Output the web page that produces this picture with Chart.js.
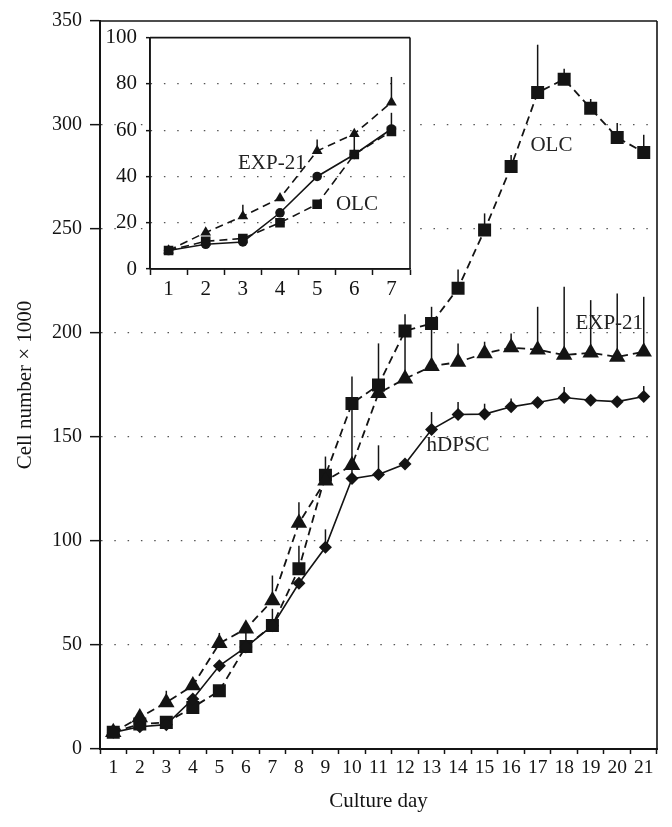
<!DOCTYPE html>
<html><head><meta charset="utf-8">
<script src="https://cdn.jsdelivr.net/npm/chart.js@4.4.1/dist/chart.umd.min.js"></script>
<style>
html,body{margin:0;padding:0;background:#fff;}
#wrap{position:relative;width:672px;height:827px;overflow:hidden;}
#main{position:absolute;left:0;top:0;}
#inset{position:absolute;left:90px;top:16px;}
</style></head><body>
<div id="wrap"><canvas id="main" width="672" height="827"></canvas><canvas id="inset" width="330" height="290"></canvas></div>
<script>
// ---- Data (main chart, cells x 1000) ----
const days = ['1','2','3','4','5','6','7','8','9','10','11','12','13','14','15','16','17','18','19','20','21'];
const hDPSC = [8, 10.7, 11.7, 24, 40, 49, 59.3, 79.7, 97, 130, 132, 137, 153.6, 160.8, 161, 164.5, 166.6, 169, 167.7, 167, 169.5];
const EXP21 = [8, 15.2, 22.4, 30.5, 50.8, 57.8, 71.4, 108.6, 129, 136.4, 171, 178, 184, 186, 190.2, 193, 192, 189.4, 190.5, 188.5, 191];
const OLC   = [8, 12, 12.8, 20, 28, 49.3, 59.4, 86.7, 131.6, 166.1, 175, 201, 204.6, 221.5, 249.5, 280, 315.6, 322, 308, 294, 286.8];
const hDPSCErr = [0, 0, 0, 0, 0, 0, 0, 0, 8.6, 8, 14, 0, 8.4, 6, 5, 4, 0, 5, 0, 0, 5];
const EXP21Err = [0, 0, 5.6, 0, 5, 0, 12, 10, 0, 29, 24, 26, 20, 9, 5.6, 6.8, 20.6, 32.8, 25.3, 30.5, 26.4];
const OLCErr   = [0, 0, 0, 0, 0, 8, 8, 11, 9, 13, 0, 8, 8, 9, 8, 5.6, 23, 5, 4.5, 7, 8.5];
const yTicksMain = [0, 50, 100, 150, 200, 250, 300, 350];

// ---- Data (inset, days 1-7) ----
const insetDays = ['1','2','3','4','5','6','7'];
const insetHDPSC = [8, 10.7, 11.7, 24.3, 40, 49.5, 60.5];
const insetEXP21 = [8, 15.8, 22.8, 30.6, 51, 58.4, 72];
const insetOLC   = [8, 12, 13.2, 20, 28, 49.5, 59.5];
const insetHDPSCErr = [0, 0, 0, 0, 0, 0, 7];
const insetEXP21Err = [0, 0, 5, 0, 5, 0, 11];
const insetOLCErr   = [0, 0, 0, 0, 0, 8, 0];
const yTicksInset = [0, 20, 40, 60, 80, 100];

// ---- Text labels (category index, value) ----
const mainLabels = [
  {text: 'OLC', x: 16.52, y: 290},
  {text: 'EXP-21', x: 18.7, y: 204.8},
  {text: 'hDPSC', x: 13.0, y: 146}
];
const insetLabels = [
  {text: 'EXP-21', x: 2.78, y: 45.7},
  {text: 'OLC', x: 5.07, y: 27.8}
];

const FONT = 'Liberation Serif';
const INK = '#141414';
Chart.defaults.font.family = FONT;
Chart.defaults.color = INK;

const errorBars = {
  id: 'errorBars',
  beforeDatasetsDraw(chart) {
    const ctx = chart.ctx, xs = chart.scales.x, ys = chart.scales.y;
    ctx.save();
    ctx.strokeStyle = INK;
    ctx.lineWidth = 1.5;
    chart.data.datasets.forEach(ds => {
      (ds.errUp || []).forEach((e, i) => {
        if (!e) return;
        const x = xs.getPixelForValue(i);
        ctx.beginPath();
        ctx.moveTo(x, ys.getPixelForValue(ds.data[i]));
        ctx.lineTo(x, ys.getPixelForValue(ds.data[i] + e));
        ctx.stroke();
      });
    });
    ctx.restore();
  }
};

function framePlugin(sides, fillWhite) {
  return {
    id: 'frame',
    beforeDraw(chart) {
      if (!fillWhite) return;
      const a = chart.chartArea, ctx = chart.ctx;
      ctx.save(); ctx.fillStyle = '#fff';
      ctx.fillRect(a.left, a.top, a.right - a.left, a.bottom - a.top);
      ctx.restore();
    },
    afterDraw(chart) {
      const a = chart.chartArea, ctx = chart.ctx;
      ctx.save(); ctx.strokeStyle = INK; ctx.lineWidth = 1.6;
      ctx.beginPath();
      if (sides.includes('top')) { ctx.moveTo(a.left, a.top); ctx.lineTo(a.right, a.top); }
      if (sides.includes('right')) { ctx.moveTo(a.right, a.top); ctx.lineTo(a.right, a.bottom); }
      if (sides.includes('left')) { ctx.moveTo(a.left, a.top); ctx.lineTo(a.left, a.bottom); }
      if (sides.includes('bottom')) { ctx.moveTo(a.left, a.bottom); ctx.lineTo(a.right, a.bottom); }
      ctx.stroke(); ctx.restore();
    }
  };
}

function textPlugin(items, size) {
  return {
    id: 'texts',
    afterDatasetsDraw(chart) {
      const ctx = chart.ctx, xs = chart.scales.x, ys = chart.scales.y;
      ctx.save();
      ctx.font = size + 'px "' + FONT + '"';
      ctx.fillStyle = '#222';
      ctx.textAlign = 'center'; ctx.textBaseline = 'middle';
      items.forEach(t => ctx.fillText(t.text, xs.getPixelForValue(t.x), ys.getPixelForValue(t.y)));
      ctx.restore();
    }
  };
}

function gridColor(maxV) {
  return c => (c.tick && (c.tick.value === 0 || c.tick.value === maxV)) ? 'rgba(0,0,0,0)' : '#555';
}

function ds(label, data, err, style, radius, dashed, width) {
  return {
    label, data, errUp: err,
    borderColor: INK, backgroundColor: INK, borderWidth: width,
    borderDash: dashed ? [8, 5] : [],
    pointStyle: style, pointRadius: radius, pointBorderWidth: 0,
    pointBackgroundColor: INK, tension: 0, fill: false
  };
}

new Chart(document.getElementById('main'), {
  type: 'line',
  data: {
    labels: days,
    datasets: [
      ds('hDPSC', hDPSC, hDPSCErr, 'rectRot', 6.5, false, 1.6),
      ds('EXP-21', EXP21, EXP21Err, 'triangle', 9.5, true, 1.8),
      ds('OLC', OLC, OLCErr, 'rect', 9.2, true, 1.8)
    ]
  },
  options: {
    responsive: false, animation: false, devicePixelRatio: 1,
    layout: {padding: {top: 21, right: 15, left: 0, bottom: 0}, autoPadding: false},
    plugins: {legend: {display: false}, tooltip: {enabled: false}},
    scales: {
      x: {
        type: 'category', offset: true,
        grid: {offset: true, drawOnChartArea: false, tickLength: 5, tickColor: INK, tickWidth: 1.5},
        border: {color: INK, width: 2},
        ticks: {font: {size: 19.5}, color: INK, padding: 2, maxRotation: 0, autoSkip: false},
        title: {display: true, text: 'Culture day', font: {size: 21}, color: INK, padding: {top: 0, bottom: 13}},
        afterFit(s) { s.height = 78; }
      },
      y: {
        min: 0, max: 350,
        afterBuildTicks(s) { s.ticks = yTicksMain.map(v => ({value: v})); },
        ticks: {font: {size: 20}, color: INK, padding: 8},
        grid: {color: gridColor(350), lineWidth: 1.3, tickLength: 10, tickColor: INK, tickWidth: 1.5},
        border: {color: INK, width: 2, dash: [1.5, 11.8]},
        title: {display: true, text: 'Cell number × 1000', font: {size: 21}, color: INK, padding: {top: 13, bottom: 0}},
        afterFit(s) { s.width = 100; }
      }
    }
  },
  plugins: [errorBars, framePlugin(['top', 'right'], false), textPlugin(mainLabels, 21)]
});

new Chart(document.getElementById('inset'), {
  type: 'line',
  data: {
    labels: insetDays,
    datasets: [
      ds('hDPSC', insetHDPSC, insetHDPSCErr, 'circle', 4.8, false, 1.6),
      ds('EXP-21', insetEXP21, insetEXP21Err, 'triangle', 6.2, true, 1.6),
      ds('OLC', insetOLC, insetOLCErr, 'rect', 6.8, true, 1.6)
    ]
  },
  options: {
    responsive: false, animation: false, devicePixelRatio: 1,
    layout: {padding: {top: 20, right: 10, left: 0, bottom: 0}, autoPadding: false},
    plugins: {legend: {display: false}, tooltip: {enabled: false}},
    scales: {
      x: {
        type: 'category', offset: true,
        grid: {offset: true, drawOnChartArea: false, tickLength: 6, tickColor: INK, tickWidth: 1.5},
        border: {color: INK, width: 1.6},
        ticks: {font: {size: 21}, color: INK, padding: 2, maxRotation: 0, autoSkip: false},
        afterFit(s) { s.height = 37; }
      },
      y: {
        min: 0, max: 100,
        afterBuildTicks(s) { s.ticks = yTicksInset.map(v => ({value: v})); },
        ticks: {font: {size: 21}, color: INK, padding: 9},
        grid: {color: gridColor(100), lineWidth: 1.3, tickLength: 4, tickColor: INK, tickWidth: 1.5},
        border: {color: INK, width: 1.6, dash: [1.5, 11.8]},
        afterFit(s) { s.width = 60; }
      }
    }
  },
  plugins: [errorBars, framePlugin(['top', 'right', 'left', 'bottom'], true), textPlugin(insetLabels, 21)]
});
</script>
</body></html>
